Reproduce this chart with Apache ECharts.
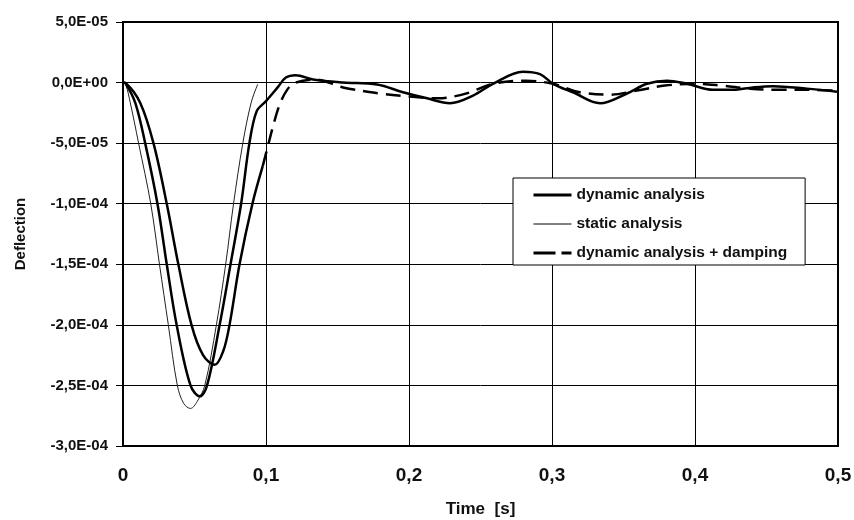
<!DOCTYPE html>
<html>
<head>
<meta charset="utf-8">
<script src="https://cdn.jsdelivr.net/npm/echarts@6/dist/echarts.min.js"></script>
<style>html,body{margin:0;padding:0;background:#fff}#c{width:854px;height:520px}</style>
</head>
<body>
<div id="c"></div>
<script>
// ---- data ----
const xTicks = [0, 0.1, 0.2, 0.3, 0.4, 0.5];
const yTicks = [5e-5, 0, -5e-5, -1e-4, -1.5e-4, -2e-4, -2.5e-4, -3e-4];

const tDynamic = [0, 0.002, 0.0086, 0.0155, 0.0241, 0.0306, 0.0375, 0.0472, 0.0537, 0.0588, 0.0676, 0.0752, 0.0826, 0.0884, 0.0935, 0.1, 0.108, 0.1139, 0.1208, 0.1329, 0.1538, 0.1776, 0.1958, 0.2126, 0.2287, 0.2448, 0.2587, 0.2797, 0.2916, 0.3007, 0.3147, 0.3336, 0.3524, 0.3664, 0.3804, 0.3944, 0.4126, 0.4266, 0.4406, 0.4545, 0.4783, 0.4993];
const vDynamic = [0, -1e-6, -1.67e-5, -5e-5, -1e-4, -1.5e-4, -2e-4, -2.5e-4, -2.59e-4, -2.5e-4, -2e-4, -1.5e-4, -1e-4, -5e-5, -2.36e-5, -1.53e-5, -4.2e-6, 4.2e-6, 6.1e-6, 2.5e-6, 0, -1.6e-6, -8e-6, -1.3e-5, -1.7e-5, -1.07e-5, -1e-6, 9e-6, 7e-6, -1e-6, -8e-6, -1.7e-5, -9e-6, -1e-6, 1.6e-6, -1e-6, -6e-6, -6e-6, -4e-6, -3e-6, -5e-6, -7.5e-6];

const tStatic = [0, 0.002, 0.0051, 0.0109, 0.0194, 0.0255, 0.0317, 0.038, 0.0425, 0.0472, 0.052, 0.0572, 0.0653, 0.0718, 0.0773, 0.0838, 0.0896, 0.0942];
const vStatic = [0, -2e-6, -1.67e-5, -5e-5, -1e-4, -1.5e-4, -2e-4, -2.5e-4, -2.65e-4, -2.69e-4, -2.63e-4, -2.5e-4, -2e-4, -1.5e-4, -1e-4, -5e-5, -1.67e-5, -1.4e-6];

const tDamping = [0, 0.002, 0.012, 0.0213, 0.0306, 0.0387, 0.0479, 0.056, 0.0641, 0.07, 0.0745, 0.0815, 0.0905, 0.0977, 0.1012, 0.1046, 0.1093, 0.115, 0.1208, 0.135, 0.1538, 0.1797, 0.2007, 0.2203, 0.2399, 0.2587, 0.2818, 0.3007, 0.3196, 0.3406, 0.3594, 0.379, 0.4007, 0.4189, 0.4385, 0.4594, 0.4818, 0.4993];
const vDamping = [0, -0.5e-6, -1.67e-5, -5e-5, -1e-4, -1.5e-4, -2e-4, -2.25e-4, -2.33e-4, -2.22e-4, -2e-4, -1.5e-4, -1e-4, -6.9e-5, -5.3e-5, -3.75e-5, -1.9e-5, -5.6e-6, 0, 2.5e-6, -4e-6, -9e-6, -1.15e-5, -1.3e-5, -9e-6, -1e-6, 1.5e-6, -1e-6, -8e-6, -1e-5, -6.6e-6, -2.5e-6, -1e-6, -2.5e-6, -5e-6, -6e-6, -6e-6, -6.6e-6];

const seriesNames = ['dynamic analysis', 'static analysis', 'dynamic analysis + damping'];

// ---- helpers ----
const zip = (t, v) => t.map((x, i) => [x, v[i]]);
const dampAll = zip(tDamping, vDamping);
const splitIdx = tDamping.findIndex(t => t >= 0.0975);
const dampDip = dampAll.slice(0, splitIdx + 1);
const dampRest = dampAll.slice(splitIdx);

function sci(v) {
  if (Math.abs(v) < 1e-12) return '0,0E+00';
  let e = Math.floor(Math.log10(Math.abs(v)) + 1e-9);
  let ms = (v / Math.pow(10, e)).toFixed(1);
  if (Math.abs(parseFloat(ms)) >= 10) { e++; ms = (v / Math.pow(10, e)).toFixed(1); }
  return ms.replace('.', ',') + 'E' + (e < 0 ? '-' : '+') + String(Math.abs(e)).padStart(2, '0');
}

const FONT = "'Liberation Sans', Arial, sans-serif";
const chart = echarts.init(document.getElementById('c'), null, {renderer: 'canvas'});
chart.setOption({
  animation: false,
  backgroundColor: '#fff',
  grid: {left: 123, right: 16, top: 22, bottom: 74, show: true, borderColor: '#000', borderWidth: 2,
    containLabel: false, outerBoundsMode: 'none'},
  legend: {
    data: [
      {name: seriesNames[0], itemStyle: {opacity: 0}, lineStyle: {color: '#000', width: 3, type: 'solid'}},
      {name: seriesNames[1], itemStyle: {opacity: 0}, lineStyle: {color: '#000', width: 1, type: 'solid'}},
      {name: seriesNames[2], itemStyle: {opacity: 0}, lineStyle: {color: '#000', width: 3, type: [22, 6]}}
    ],
    orient: 'vertical',
    left: 513, top: 178,
    padding: [9, 18, 4, 19],
    itemGap: 13,
    itemWidth: 38, itemHeight: 14,
    backgroundColor: '#fff',
    borderColor: '#000', borderWidth: 1,
    textStyle: {fontFamily: FONT, fontWeight: 'bold', fontSize: 15.5, color: '#111', lineHeight: 16}
  },
  xAxis: {
    type: 'value', min: xTicks[0], max: xTicks[xTicks.length - 1], interval: 0.1,
    name: 'Time  [s]', nameLocation: 'middle', nameGap: 55,
    nameTextStyle: {fontFamily: FONT, fontWeight: 'bold', fontSize: 17, color: '#111'},
    axisLine: {show: true, onZero: false, lineStyle: {color: '#000', width: 2}},
    axisTick: {show: false},
    splitLine: {show: true, lineStyle: {color: '#000', width: 1}},
    axisLabel: {margin: 20, fontFamily: FONT, fontWeight: 'bold', fontSize: 19, color: '#111',
      formatter: v => (Math.abs(v) < 1e-9 ? '0' : v.toFixed(1).replace('.', ','))}
  },
  yAxis: {
    type: 'value', min: yTicks[yTicks.length - 1], max: yTicks[0], interval: 5e-5,
    name: 'Deflection', nameLocation: 'middle', nameGap: 95, nameRotate: 90,
    nameTextStyle: {fontFamily: FONT, fontWeight: 'bold', fontSize: 15, color: '#111'},
    axisLine: {show: true, lineStyle: {color: '#000', width: 2}},
    axisTick: {show: true, length: 7, lineStyle: {color: '#000', width: 1}},
    splitLine: {show: true, lineStyle: {color: '#000', width: 1}},
    axisLabel: {margin: 15, fontFamily: FONT, fontWeight: 'bold', fontSize: 15, color: '#111', formatter: sci}
  },
  series: [
    {name: seriesNames[1], type: 'line', data: zip(tStatic, vStatic), showSymbol: false, symbol: 'none', smooth: 0.35,
      lineStyle: {color: '#222', width: 1}, itemStyle: {color: '#222'}, z: 2},
    {name: seriesNames[0], type: 'line', data: zip(tDynamic, vDynamic), showSymbol: false, symbol: 'none', smooth: 0.35,
      lineStyle: {color: '#000', width: 2.5}, itemStyle: {color: '#000'}, z: 3},
    {name: '_dampDip', type: 'line', data: dampDip, showSymbol: false, symbol: 'none', smooth: 0.35,
      lineStyle: {color: '#000', width: 2.5}, itemStyle: {color: '#000'}, z: 3},
    {name: seriesNames[2], type: 'line', data: dampRest, showSymbol: false, symbol: 'none', smooth: 0.35,
      lineStyle: {color: '#000', width: 2.5, type: [15, 8]}, itemStyle: {color: '#000'}, z: 3}
  ]
});
</script>
</body>
</html>
